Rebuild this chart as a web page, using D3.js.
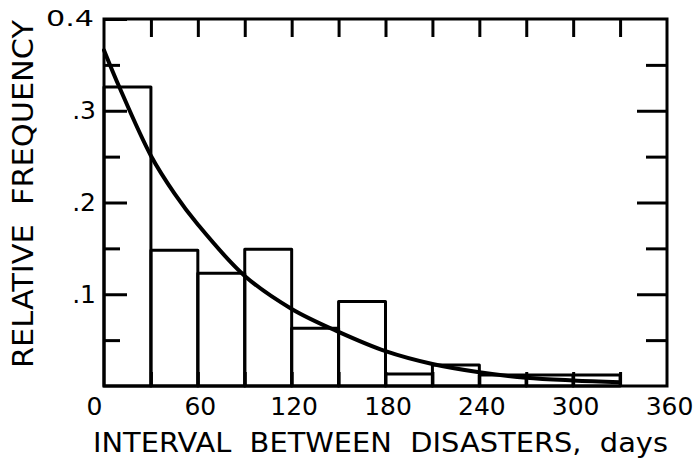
<!DOCTYPE html>
<html>
<head>
<meta charset="utf-8">
<script src="https://cdn.jsdelivr.net/npm/d3@7"></script>
<style>
  html, body { margin: 0; padding: 0; background: #fff; }
  svg { display: block; }
  text { font-family: "DejaVu Sans", "Liberation Sans", sans-serif; fill: #000; }
</style>
</head>
<body>
<svg id="chart" width="698" height="459"></svg>
<script>
// ---- data ----
const binStarts = [0, 30, 60, 90, 120, 150, 180, 210, 240, 270, 300];
const binWidth = 30;
const relFreq = [0.326, 0.148, 0.123, 0.149, 0.063, 0.092, 0.013, 0.023, 0.012, 0.012, 0.012];
const curveDays = [0, 10, 30, 45, 60, 90, 120, 150, 180, 210, 240, 270, 300, 330];
const curveFreq = [0.366, 0.325, 0.251, 0.210, 0.176, 0.120, 0.084, 0.059, 0.038, 0.024, 0.015, 0.009, 0.006, 0.004];
const xTickValues = [0, 60, 120, 180, 240, 300, 360];
const xTickLabels = ["0", "60", "120", "180", "240", "300", "360"];
const yTickValues = [0.1, 0.2, 0.3, 0.4];
const yTickLabels = [".1", ".2", ".3", "0.4"];
const yMinorValues = [0.05, 0.15, 0.25, 0.35];
const xMinorValues = [30, 60, 90, 120, 150, 180, 210, 240, 270, 300, 330];
const xTitle = "INTERVAL  BETWEEN  DISASTERS,  days";
const yTitle = "RELATIVE  FREQUENCY";

// ---- layout ----
const svg = d3.select("#chart");
const L = 104, R = 667, T = 19, B = 386;
const x = d3.scaleLinear().domain([0, 360]).range([L, R]);
const y = d3.scaleLinear().domain([0, 0.4]).range([B, T]);
const SW = 3;

// histogram bars
svg.append("g").selectAll("rect")
  .data(binStarts.map((s, i) => ({ s, v: relFreq[i] })))
  .join("rect")
  .attr("x", d => x(d.s))
  .attr("width", d => x(d.s + binWidth) - x(d.s))
  .attr("y", d => y(d.v))
  .attr("height", d => y(0) - y(d.v))
  .attr("fill", "none")
  .attr("stroke", "#000")
  .attr("stroke-width", SW)
  .attr("stroke-linejoin", "round");

// fitted curve
const line = d3.line()
  .x((d, i) => x(curveDays[i]))
  .y(d => y(d))
  .curve(d3.curveCatmullRom.alpha(0.5));
svg.append("path")
  .attr("d", line(curveFreq))
  .attr("fill", "none")
  .attr("stroke", "#000")
  .attr("stroke-width", 4)
  .attr("stroke-linecap", "round");

// ticks via axes
function styleAxis(g) {
  g.select(".domain").remove();
  g.selectAll(".tick line").attr("stroke", "#000").attr("stroke-width", SW);
}
// left major
svg.append("g").attr("transform", `translate(${L},0)`)
  .call(d3.axisLeft(y).tickValues(yTickValues).tickSize(-23).tickPadding(8)
    .tickFormat((d, i) => yTickLabels[i]))
  .call(styleAxis)
  .call(g => g.selectAll(".tick text").attr("font-size", 25))
  .call(g => g.selectAll(".tick text").filter(d => d === 0.4)
    .attr("font-size", 21).attr("dx", -2)
    .attr("textLength", 48).attr("lengthAdjust", "spacingAndGlyphs"));
// left minor
svg.append("g").attr("transform", `translate(${L},0)`)
  .call(d3.axisLeft(y).tickValues(yMinorValues).tickSize(-16).tickFormat(""))
  .call(styleAxis);
// right major / minor
svg.append("g").attr("transform", `translate(${R},0)`)
  .call(d3.axisRight(y).tickValues(yTickValues.slice(0, 3)).tickSize(-30).tickFormat(""))
  .call(styleAxis);
svg.append("g").attr("transform", `translate(${R},0)`)
  .call(d3.axisRight(y).tickValues(yMinorValues).tickSize(-21).tickFormat(""))
  .call(styleAxis);
// top ticks
svg.append("g").attr("transform", `translate(0,${T})`)
  .call(d3.axisTop(x).tickValues(xMinorValues).tickSize(-18).tickFormat(""))
  .call(styleAxis);
// bottom ticks
svg.append("g").attr("transform", `translate(0,${B})`)
  .call(d3.axisBottom(x).tickValues(xMinorValues).tickSize(-14).tickFormat(""))
  .call(styleAxis);
// bottom labels
svg.append("g").attr("transform", `translate(0,${B})`)
  .call(d3.axisBottom(x).tickValues(xTickValues).tickSize(0).tickPadding(11)
    .tickFormat((d, i) => xTickLabels[i]))
  .call(g => g.select(".domain").remove())
  .call(g => g.selectAll(".tick text").attr("font-size", 25)
    .attr("dx", d => d === 0 ? -10 : 2));

// frame
svg.append("rect")
  .attr("x", L).attr("y", T).attr("width", R - L).attr("height", B - T)
  .attr("fill", "none").attr("stroke", "#000").attr("stroke-width", SW);

// titles
svg.append("text")
  .attr("x", 93).attr("y", 452)
  .attr("font-size", 27)
  .attr("textLength", 575).attr("lengthAdjust", "spacingAndGlyphs")
  .attr("xml:space", "preserve")
  .text(xTitle);
svg.append("text")
  .attr("transform", "translate(33,368) rotate(-90)")
  .attr("font-size", 28)
  .attr("textLength", 348).attr("lengthAdjust", "spacingAndGlyphs")
  .attr("xml:space", "preserve")
  .text(yTitle);
</script>
</body>
</html>
